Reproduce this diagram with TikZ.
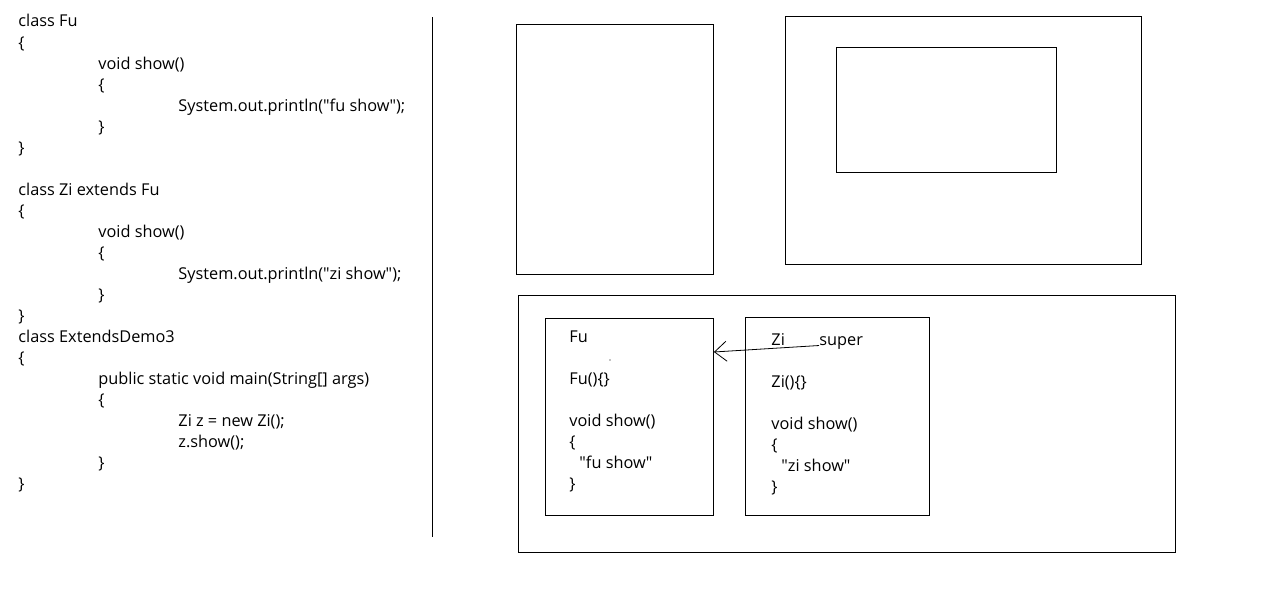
\documentclass[tikz,border=0pt]{standalone}
\usepackage{fontspec}
\setmainfont{Open Sans}
\usetikzlibrary{arrows.meta}

\tikzset{
  codeline/.style={anchor=base west, inner sep=0pt, font=\fontsize{16.3}{19}\selectfont},
  memory/.style={draw, line width=0.9pt},
}

\begin{document}
\begin{tikzpicture}[x=1pt, y=-1pt, line width=0.9pt]
    \useasboundingbox (0,0) rectangle (1279,597);

    % Source code
    \foreach \ind/\row/\txt [count=\n] in {
        0/0/{class Fu}, 0/1/{\{}, 80/2/{void show()}, 80/3/{\{},
        160/4/{System.out.println(\textquotedbl fu show\textquotedbl);}, 80/5/{\}}, 0/6/{\}},
        0/8/{class Zi extends Fu}, 0/9/{\{}, 80/10/{void show()}, 80/11/{\{},
        160/12/{System.out.println(\textquotedbl zi show\textquotedbl);}, 80/13/{\}}, 0/14/{\}},
        0/15/{class ExtendsDemo3}, 0/16/{\{}, 80/17/{public static void main(String[] args)},
        80/18/{\{}, 160/19/{Zi z = new Zi();}, 160/20/{z.show();}, 80/21/{\}}, 0/22/{\}}}
        \node[codeline] (code\n) at (18+\ind, 27+21*\row) {\txt};

    % Separator
    \draw (432,17) -- (432,537);

    % Stack and method area
    \draw[memory] (516,24) rectangle (713,274);
    \draw[memory] (785,16) rectangle (1141,264);
    \draw[memory] (836,47) rectangle (1056,172);

    % Heap
    \draw[memory] (518,295) rectangle (1175,552);
    \node[memory, minimum width=168pt, minimum height=197pt, inner sep=0pt, anchor=north west] (fubox) at (545,318) {};
    \node[memory, minimum width=184pt, minimum height=198pt, inner sep=0pt, anchor=north west] (zibox) at (745,317) {};
    \fill (610,360) circle (0.6pt);

    % Fu object
    \node[codeline] (funame) at (569,342) {Fu};
    \node[codeline] (fucons) at (569,384) {Fu()\{\}};
    \node[codeline] (fushow) at (569,426) {void show()};
    \node[codeline] (fuopen) at (569,447) {\{};
    \node[codeline] (fuprint) at (579,468) {\textquotedbl fu show\textquotedbl};
    \node[codeline] (fuclose) at (569,489) {\}};

    % Zi object
    \node[codeline] (ziname) at (771,345) {Zi};
    \node[codeline] (zisuper) at (819,345) {super};
    \node[codeline] (zicons) at (771,387) {Zi()\{\}};
    \node[codeline] (zishow) at (771,429) {void show()};
    \node[codeline] (ziopen) at (771,450) {\{};
    \node[codeline] (ziprint) at (781,471) {\textquotedbl zi show\textquotedbl};
    \node[codeline] (ziclose) at (771,492) {\}};

    % super reference
    \coordinate (fuedge) at (fubox.east |- 0,352);
    \draw[-{Straight Barb[length=12pt, width=20pt]}, line width=0.8pt]
        ([yshift=-3pt]zisuper.west) -- (fuedge);
\end{tikzpicture}
\end{document}
